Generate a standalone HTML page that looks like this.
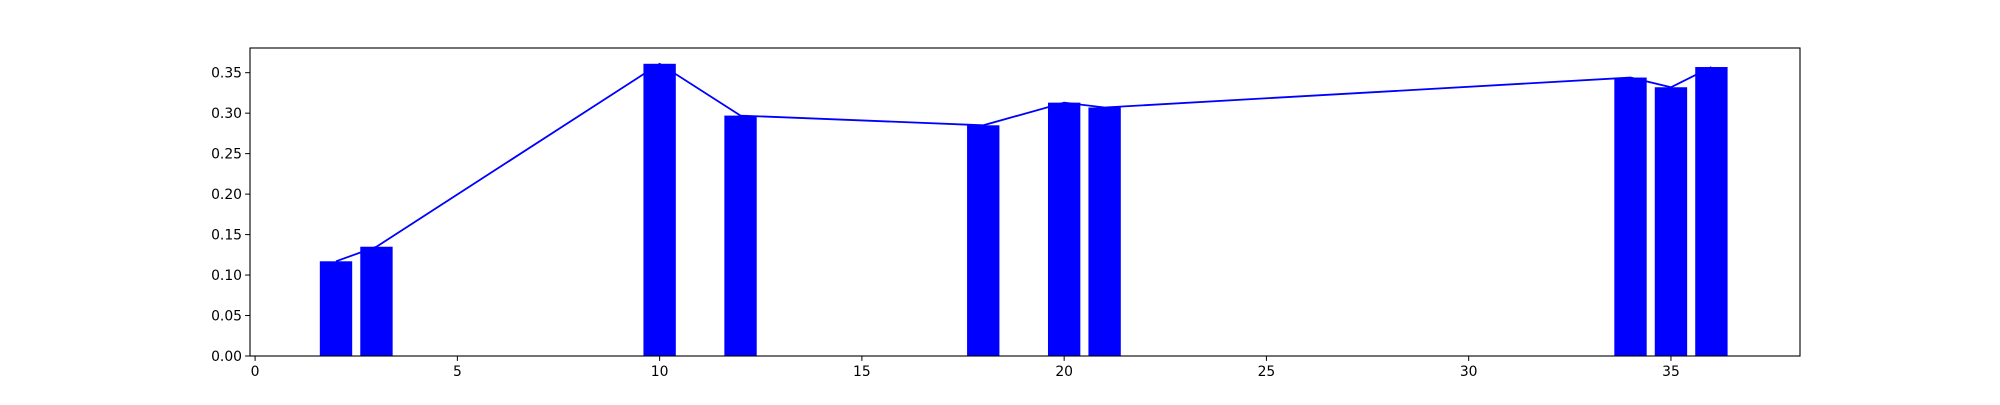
<!DOCTYPE html>
<html><head><meta charset="utf-8"><style>
body{margin:0;background:#fff}
text{font-family:"DejaVu Sans","Liberation Sans",sans-serif;font-size:13.9px;fill:#000}
</style></head><body>
<svg id="chart" width="2000" height="400" xmlns="http://www.w3.org/2000/svg">
<rect width="2000" height="400" fill="#fff"/>
<g id="plot"></g>
</svg>
<script>
const categories = [2, 3, 10, 12, 18, 20, 21, 34, 35, 36];
const values = [0.117, 0.135, 0.361, 0.297, 0.285, 0.313, 0.307, 0.344, 0.332, 0.357];
const xTicks = [0, 5, 10, 15, 20, 25, 30, 35];
const yTicks = ["0.00","0.05","0.10","0.15","0.20","0.25","0.30","0.35"];

const L=250,R=1800,T=48,B=356;
const xmin=-0.126,xmax=38.19,ymin=0,ymax=0.3805;
const sx=v=>L+(v-xmin)/(xmax-xmin)*(R-L);
const sy=v=>B-(v-ymin)/(ymax-ymin)*(B-T);
const NS="http://www.w3.org/2000/svg";
const g=document.getElementById('plot');
function mk(t,a){const e=document.createElementNS(NS,t);for(const k in a)e.setAttribute(k,a[k]);g.appendChild(e);return e;}
categories.forEach((c,i)=>{
  const x0=sx(c-0.4),x1=sx(c+0.4);
  const r=mk('rect',{x:x0,y:sy(values[i]),width:x1-x0,height:sy(0)-sy(values[i]),fill:'#0000ff'});
  
  
});
const pl=mk('polyline',{points:categories.map((c,i)=>sx(c)+','+sy(values[i])).join(' '),fill:'none',stroke:'#0000ff','stroke-width':1.8});


const fr=mk('rect',{x:L,y:T,width:R-L,height:B-T,fill:'none',stroke:'#000','stroke-width':1.1});


xTicks.forEach(t=>{
  const x=sx(t);
  const l=mk('line',{x1:x,x2:x,y1:B,y2:B+4.9,stroke:'#000','stroke-width':1});
  
  
  const tx=mk('text',{x:x,y:B+20,'text-anchor':'middle'});tx.textContent=t;
  
  
});
yTicks.forEach(t=>{
  const y=sy(parseFloat(t));
  const l=mk('line',{x1:L-4.9,x2:L,y1:y,y2:y,stroke:'#000','stroke-width':1});
  
  
  const tx=mk('text',{x:L-8,y:y+5,'text-anchor':'end'});tx.textContent=t;
  
  
});
</script>
</body></html>
